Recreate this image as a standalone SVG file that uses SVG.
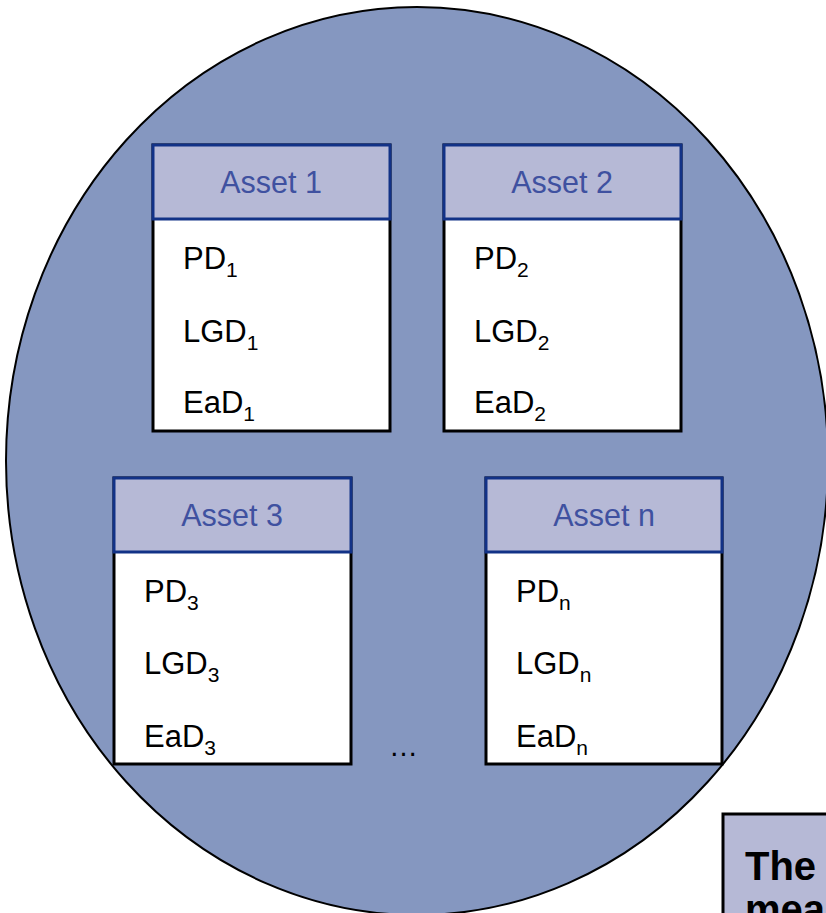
<svg xmlns="http://www.w3.org/2000/svg" width="826" height="913" viewBox="0 0 826 913">
  <style>
    .pool { fill: #8597c0; stroke: #000; stroke-width: 2; }
    .body { fill: #fff; stroke: #000; stroke-width: 3; }
    .head { fill: #b6b9d6; stroke: #123287; stroke-width: 3; }
    .title { font-family: "Liberation Sans", Arial, sans-serif; font-size: 30.5px; fill: #3f51a0; text-anchor: middle; }
    .item { font-family: "Liberation Sans", Arial, sans-serif; font-size: 31px; fill: #000; }
    .sub { font-size: 21px; }
    .note { fill: #b6b9d6; stroke: #000; stroke-width: 3; }
    .noteText { font-family: "Liberation Sans", Arial, sans-serif; font-size: 40px; font-weight: bold; fill: #000; }
  </style>
  <rect width="826" height="913" fill="#fff"/>

  <!-- portfolio pool -->
  <ellipse id="portfolio" class="pool" cx="417" cy="461" rx="411" ry="454"/>

  <g id="asset1">
    <rect class="body" x="153" y="145" width="237" height="286"/>
    <rect class="head" x="153" y="145" width="237" height="74"/>
    <text class="title" x="271" y="193">Asset 1</text>
    <text class="item" x="183" y="269">PD<tspan class="sub" dy="8">1</tspan></text>
    <text class="item" x="183" y="342">LGD<tspan class="sub" dy="8">1</tspan></text>
    <text class="item" x="183" y="413">EaD<tspan class="sub" dy="8">1</tspan></text>
  </g>

  <g id="asset2">
    <rect class="body" x="444" y="145" width="237" height="286"/>
    <rect class="head" x="444" y="145" width="237" height="74"/>
    <text class="title" x="562" y="193">Asset 2</text>
    <text class="item" x="474" y="269">PD<tspan class="sub" dy="8">2</tspan></text>
    <text class="item" x="474" y="342">LGD<tspan class="sub" dy="8">2</tspan></text>
    <text class="item" x="474" y="413">EaD<tspan class="sub" dy="8">2</tspan></text>
  </g>

  <g id="asset3">
    <rect class="body" x="114" y="478" width="237" height="286"/>
    <rect class="head" x="114" y="478" width="237" height="74"/>
    <text class="title" x="232" y="526">Asset 3</text>
    <text class="item" x="144" y="602">PD<tspan class="sub" dy="8">3</tspan></text>
    <text class="item" x="144" y="674">LGD<tspan class="sub" dy="8">3</tspan></text>
    <text class="item" x="144" y="747">EaD<tspan class="sub" dy="8">3</tspan></text>
  </g>

  <g id="assetN">
    <rect class="body" x="486" y="478" width="236" height="286"/>
    <rect class="head" x="486" y="478" width="236" height="74"/>
    <text class="title" x="604" y="526">Asset n</text>
    <text class="item" x="516" y="602">PD<tspan class="sub" dy="8">n</tspan></text>
    <text class="item" x="516" y="674">LGD<tspan class="sub" dy="8">n</tspan></text>
    <text class="item" x="516" y="747">EaD<tspan class="sub" dy="8">n</tspan></text>
  </g>

  <text id="ellipsis" class="item" x="389" y="756" style="font-size:29px">…</text>

  <g id="note">
    <rect class="note" x="723" y="814" width="120" height="120"/>
    <text class="noteText" x="745" y="880">The</text>
    <text class="noteText" x="745" y="923">mea</text>
  </g>

  <g id="connectors"/>
</svg>
